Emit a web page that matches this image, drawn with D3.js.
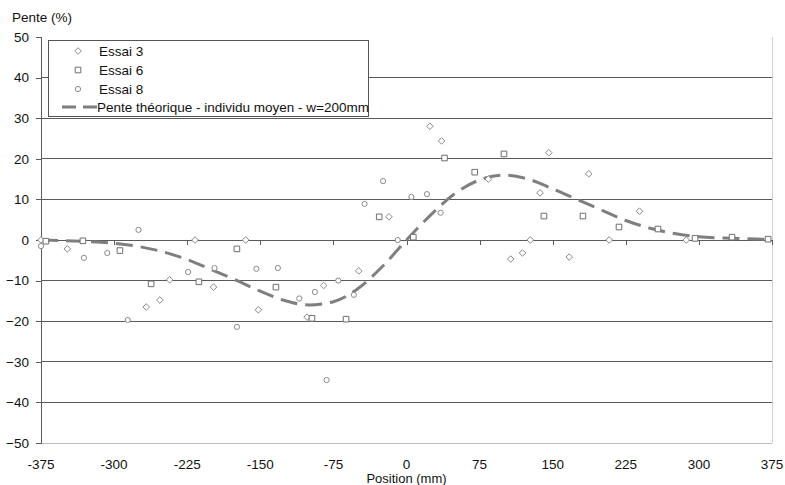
<!DOCTYPE html>
<html><head><meta charset="utf-8">
<script src="https://cdn.jsdelivr.net/npm/d3@7"></script>
<style>body{margin:0;background:#fff}svg{display:block}text{font-family:"Liberation Sans",Arial,sans-serif}</style>
</head><body><svg id="c" width="785" height="485"></svg>
<script>
const xTicks=[-375,-300,-225,-150,-75,0,75,150,225,300,375];
const yTicks=[-50,-40,-30,-20,-10,0,10,20,30,40,50];
const seriesNames=["Essai 3","Essai 6","Essai 8","Pente théorique - individu moyen - w=200mm"];
const essai3X=[-375,-348,-267,-253,-243,-217,-198,-165,-152,-102,-85,-49,-18,24,36,84,107,119,127,137,146,167,187,208,239,287];
const essai3Y=[0,-2.2,-16.5,-14.8,-9.8,0,-11.6,0,-17.2,-19,-11.2,-7.6,5.7,28,24.4,15,-4.7,-3.2,0,11.6,21.5,-4.2,16.3,0,7.1,0];
const essai6X=[-370,-332,-294,-262,-213,-174,-134,-97,-62,-28,7,39,70,100,141,181,218,258,296,334,371];
const essai6Y=[-0.3,-0.2,-2.6,-10.8,-10.3,-2.2,-11.6,-19.3,-19.5,5.7,0.7,20.2,16.7,21.2,5.9,5.9,3.2,2.7,0.4,0.7,0.2];
const essai8X=[-375,-331,-307,-286,-275,-224,-197,-174,-154,-132,-110,-94,-82,-70,-54,-43,-24,-9,5,21,35];
const essai8Y=[-1.5,-4.4,-3.2,-19.7,2.5,-7.9,-6.9,-21.4,-7.1,-6.9,-14.4,-12.8,-34.5,-10,-13.5,8.9,14.5,0,10.6,11.3,6.7];
const theoX=[-375,-350,-325,-300,-275,-250,-225,-200,-175,-150,-125,-100,-75,-50,-25,0,25,50,75,100,125,150,175,200,225,250,275,300,325,350,375];
const theoY=[0,-0.2,-0.4,-0.8,-1.6,-2.9,-4.8,-7.3,-9.9,-12.6,-14.9,-16,-15.2,-12,-6.6,0,6.2,11.5,14.8,16,15,12.6,10,7.4,4.8,2.9,1.6,0.8,0.5,0.3,0.1];

const svg=d3.select("#c");
const x=d3.scaleLinear().domain([-375,375]).range([41,772]);
const y=d3.scaleLinear().domain([-50,50]).range([443,37]);
const grid="#5a5a5a", mk="#8a8a8a";

svg.append("g").selectAll("line").data(yTicks.filter(v=>v>-50&&v<50&&v!==0)).join("line")
  .attr("x1",x(-375)).attr("x2",x(375)).attr("y1",d=>y(d)).attr("y2",d=>y(d))
  .attr("stroke",grid).attr("stroke-width",1).attr("shape-rendering","crispEdges");
svg.append("line").attr("x1",x(-375)).attr("x2",x(375)).attr("y1",y(-50)).attr("y2",y(-50)).attr("stroke","#bdbdbd").attr("shape-rendering","crispEdges");
svg.append("line").attr("x1",x(375)).attr("x2",x(375)).attr("y1",y(50)).attr("y2",y(-50)).attr("stroke","#cfcfcf").attr("shape-rendering","crispEdges");

const yAxis=d3.axisLeft(y).tickValues(yTicks).tickSize(5).tickPadding(7).tickFormat(d3.format("d"));
const gy=svg.append("g").attr("transform",`translate(${x(-375)},0)`).call(yAxis);
gy.select(".domain").attr("stroke",grid).attr("shape-rendering","crispEdges");
gy.selectAll(".tick line").attr("stroke",grid).attr("shape-rendering","crispEdges");
gy.selectAll("text").attr("font-size",13.5).attr("fill","#111").attr("font-family","Liberation Sans, Arial, sans-serif");

const xAxis=d3.axisBottom(x).tickValues(xTicks).tickSize(5).tickFormat("");
const gx=svg.append("g").attr("transform",`translate(0,${y(0)})`).call(xAxis);
gx.select(".domain").attr("stroke",grid).attr("shape-rendering","crispEdges");
gx.selectAll(".tick line").attr("stroke",grid).attr("shape-rendering","crispEdges");
svg.append("g").selectAll("text").data(xTicks).join("text")
  .attr("x",d=>x(d)).attr("y",469).attr("text-anchor","middle").attr("font-size",13.5).attr("fill","#111")
  .text(d=>d);
svg.append("text").attr("x",x(0)).attr("y",483).attr("text-anchor","middle").attr("font-size",13).attr("fill","#111").text("Position (mm)");
svg.append("text").attr("x",12).attr("y",22).attr("font-size",13.5).attr("fill","#111").text("Pente (%)");

const line=d3.line().x(d=>x(d[0])).y(d=>y(d[1])).curve(d3.curveMonotoneX);
svg.append("path").datum(d3.zip(theoX,theoY)).attr("d",line).attr("fill","none")
  .attr("stroke","#7f7f7f").attr("stroke-width",3).attr("stroke-dasharray","17,8");

const diamond="M0,-3.3L3.3,0L0,3.3L-3.3,0Z";
const square="M-2.8,-2.8H2.8V2.8H-2.8Z";
function drawPts(xs,ys,kind){
  const pts=d3.zip(xs,ys);
  const g=svg.append("g");
  if(kind==="circle"){
    g.selectAll("circle").data(pts).join("circle").attr("cx",d=>x(d[0])).attr("cy",d=>y(d[1])).attr("r",2.6)
     .attr("fill","#fff").attr("stroke",mk).attr("stroke-width",1);
  } else {
    g.selectAll("path").data(pts).join("path").attr("transform",d=>`translate(${x(d[0])},${y(d[1])})`)
     .attr("d",kind==="diamond"?diamond:square).attr("fill","#fff").attr("stroke",kind==="square"?"#6e6e6e":mk).attr("stroke-width",1);
  }
}
drawPts(essai3X,essai3Y,"diamond");
drawPts(essai6X,essai6Y,"square");
drawPts(essai8X,essai8Y,"circle");

const lg=svg.append("g");
lg.append("rect").attr("x",48.5).attr("y",40.5).attr("width",320).attr("height",76).attr("fill","#fff").attr("stroke","#555");
const rows=[51,70,89,107];
lg.append("path").attr("transform",`translate(78,${rows[0]})`).attr("d",diamond).attr("fill","#fff").attr("stroke",mk);
lg.append("path").attr("transform",`translate(78,${rows[1]})`).attr("d",square).attr("fill","#fff").attr("stroke","#6e6e6e");
lg.append("circle").attr("cx",78).attr("cy",rows[2]).attr("r",2.6).attr("fill","#fff").attr("stroke",mk);
lg.append("line").attr("x1",62).attr("x2",97).attr("y1",rows[3]).attr("y2",rows[3]).attr("stroke","#7f7f7f").attr("stroke-width",3).attr("stroke-dasharray","14,7");
lg.selectAll("text.l").data(seriesNames).join("text").attr("class","l")
  .attr("x",(d,i)=>i===3?97:99).attr("y",(d,i)=>rows[i]+5).attr("font-size",13.5).attr("fill","#111").text(d=>d);
</script></body></html>
